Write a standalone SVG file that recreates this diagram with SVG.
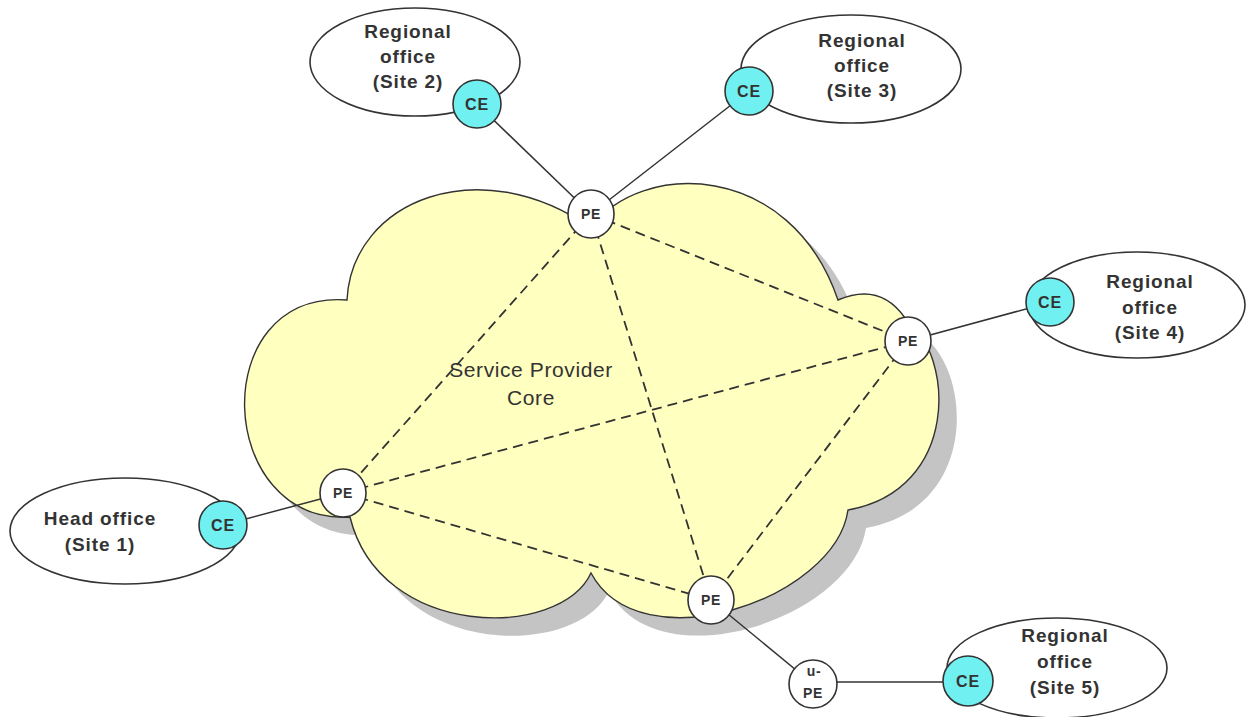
<svg xmlns="http://www.w3.org/2000/svg" width="1248" height="717" viewBox="0 0 1248 717">
<style>
.site{fill:#fff;stroke:#333;stroke-width:1.6}
.lbl{font-family:"Liberation Sans",Arial,sans-serif;font-weight:bold;font-size:19px;letter-spacing:0.9px;fill:#333;text-anchor:middle}
.ce{fill:#70f0f0;stroke:#333;stroke-width:1.6}
.pe{fill:#fff;stroke:#333;stroke-width:1.6}
.nt{font-family:"Liberation Sans",Arial,sans-serif;font-weight:bold;font-size:16px;letter-spacing:0.8px;fill:#333;text-anchor:middle}
.pt{font-family:"Liberation Sans",Arial,sans-serif;font-weight:bold;font-size:14px;letter-spacing:0.6px;fill:#333;text-anchor:middle}
.dash{stroke:#333;stroke-width:1.8;stroke-dasharray:10 6;fill:none}
.solid{stroke:#333;stroke-width:1.5;fill:none}
.core{font-family:"Liberation Sans",Arial,sans-serif;font-size:21px;letter-spacing:0.6px;fill:#333;text-anchor:middle}
</style>
<defs>
<path id="cloudPath" d="M 347 300 C 352 200, 480 150, 591 228 C 640 160, 790 160, 838 300 Q 880 282, 905 318 C 955 355, 960 490, 848 510 C 835 600, 640 665, 591 573 C 560 640, 380 640, 350 517 C 215 525, 205 290, 347 300 Z"/>
</defs>
<rect width="1248" height="717" fill="#fff"/>
<g id="cloud">
<use href="#cloudPath" transform="translate(18,18)" fill="#c4c4c4"/>
<use href="#cloudPath" fill="#ffffc0" stroke="#333" stroke-width="1.4"/>
<text class="core" x="531" y="377">Service Provider</text>
<text class="core" x="531" y="405">Core</text>
</g>
<g id="site2">
<ellipse class="site" cx="415" cy="62" rx="105" ry="54"/>
<text class="lbl" x="408" y="38">Regional</text>
<text class="lbl" x="408" y="63">office</text>
<text class="lbl" x="408" y="88">(Site 2)</text>
</g>
<g id="site3">
<ellipse class="site" cx="851" cy="69" rx="110" ry="54"/>
<text class="lbl" x="862" y="47">Regional</text>
<text class="lbl" x="862" y="72">office</text>
<text class="lbl" x="862" y="97">(Site 3)</text>
</g>
<g id="site4">
<ellipse class="site" cx="1137" cy="305" rx="108" ry="53"/>
<text class="lbl" x="1150" y="288">Regional</text>
<text class="lbl" x="1150" y="314">office</text>
<text class="lbl" x="1150" y="339">(Site 4)</text>
</g>
<g id="site1">
<ellipse class="site" cx="125" cy="531" rx="115" ry="53"/>
<text class="lbl" x="100" y="525">Head office</text>
<text class="lbl" x="100" y="551">(Site 1)</text>
</g>
<g id="site5">
<ellipse class="site" cx="1057" cy="668" rx="110" ry="50"/>
<text class="lbl" x="1065" y="642">Regional</text>
<text class="lbl" x="1065" y="668">office</text>
<text class="lbl" x="1065" y="694">(Site 5)</text>
</g>
<g id="connectors">
<line class="dash" x1="591" y1="214" x2="343" y2="493"/>
<line class="dash" x1="591" y1="214" x2="711" y2="600"/>
<line class="dash" x1="591" y1="214" x2="908" y2="341"/>
<line class="dash" x1="343" y1="493" x2="908" y2="341"/>
<line class="dash" x1="343" y1="493" x2="711" y2="600"/>
<line class="dash" x1="908" y1="341" x2="711" y2="600"/>
<line class="solid" x1="477" y1="104" x2="591" y2="214"/>
<line class="solid" x1="749" y1="91" x2="591" y2="214"/>
<line class="solid" x1="1048" y1="303" x2="908" y2="341"/>
<line class="solid" x1="223" y1="525" x2="343" y2="493"/>
<line class="solid" x1="711" y1="600" x2="813" y2="684"/>
<line class="solid" x1="813" y1="682" x2="968" y2="682"/>
</g>
<g id="ce2"><circle class="ce" cx="477" cy="104" r="24"/><text class="nt" x="477" y="110">CE</text></g>
<g id="ce3"><circle class="ce" cx="749" cy="91" r="24"/><text class="nt" x="749" y="97">CE</text></g>
<g id="ce4"><circle class="ce" cx="1050" cy="302" r="24"/><text class="nt" x="1050" y="308">CE</text></g>
<g id="ce1"><circle class="ce" cx="223" cy="525" r="24"/><text class="nt" x="223" y="531">CE</text></g>
<g id="ce5"><circle class="ce" cx="968" cy="681" r="25"/><text class="nt" x="968" y="687">CE</text></g>
<g id="pe-top"><ellipse class="pe" cx="591" cy="214" rx="23" ry="24"/><text class="pt" x="591" y="219">PE</text></g>
<g id="pe-right"><ellipse class="pe" cx="908" cy="341" rx="23" ry="24"/><text class="pt" x="908" y="346">PE</text></g>
<g id="pe-left"><ellipse class="pe" cx="343" cy="493" rx="23" ry="24"/><text class="pt" x="343" y="498">PE</text></g>
<g id="pe-bottom"><ellipse class="pe" cx="711" cy="600" rx="23" ry="24"/><text class="pt" x="711" y="605">PE</text></g>
<g id="u-pe"><ellipse class="pe" cx="813" cy="684" rx="24" ry="24"/><text class="pt" x="814" y="676">u-</text><text class="pt" x="813" y="698">PE</text></g>
</svg>
